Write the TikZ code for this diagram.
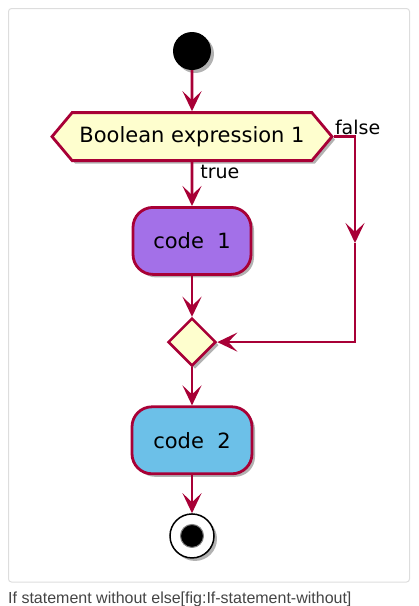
\documentclass[tikz,border=0pt]{standalone}
\usepackage{fontspec}
\usepackage{tikz}
\usetikzlibrary{arrows.meta, positioning, shapes.geometric, shapes.symbols, shadows}
\newfontfamily\umlfont{DejaVu Sans}
\newfontfamily\capfont{Liberation Sans}
\definecolor{umlred}{HTML}{A80036}
\definecolor{umlyellow}{HTML}{FEFECE}
\definecolor{umlpurple}{HTML}{A370E8}
\definecolor{umlblue}{HTML}{6CC0E8}
\definecolor{framegray}{HTML}{DDDDDD}
\definecolor{captext}{HTML}{444444}
\tikzset{
  umlshadow/.style={drop shadow={shadow xshift=3pt, shadow yshift=-3pt,
                    opacity=0.3, fill=black}},
  actbox/.style={draw=umlred, line width=2.8pt, rounded corners=20pt,
                 minimum width=118pt, minimum height=67pt, umlshadow,
                 font=\umlfont\fontsize{21}{25}\selectfont},
  condbox/.style={signal, signal to=west and east, signal pointer angle=100,
                  draw=umlred, fill=umlyellow, line width=2.8pt,
                  minimum width=280pt, minimum height=48pt, inner xsep=2pt,
                  umlshadow, font=\umlfont\fontsize{21}{25}\selectfont},
  mergebox/.style={diamond, draw=umlred, fill=umlyellow, line width=2.6pt,
                   minimum width=48pt, minimum height=48pt, inner sep=0pt,
                   umlshadow},
  flow/.style={-{Stealth[length=20pt, width=19pt, inset=9pt]},
               line width=2.6pt, draw=umlred},
  lbl/.style={font=\umlfont\fontsize{19}{22}\selectfont, inner sep=1pt},
}
\begin{document}
\begin{tikzpicture}[x=1pt, y=1pt, node distance=38pt]
  \useasboundingbox (0,0) rectangle (419,-606);
  \draw[framegray, line width=1pt, rounded corners=3pt]
    (8.5,-8.5) rectangle (409.5,-582);

  \node[circle, fill=black, minimum size=38pt, inner sep=0pt, umlshadow]
    (start) at (192,-51) {};
  \node[condbox, below=41pt of start] (cond) {Boolean expression 1};
  \node[actbox, fill=umlpurple, below=44pt of cond] (code1) {code~~1};
  \node[mergebox, below=41pt of code1] (merge) {};
  \node[actbox, fill=umlblue, minimum width=120pt, below=of merge]
    (code2) {code~~2};
  \node[circle, draw=black, fill=white, line width=1.5pt, minimum size=44pt,
        inner sep=0pt, umlshadow, below=of code2] (stop) {};
  \node[circle, fill=black, draw=gray, line width=1pt, minimum size=23pt,
        inner sep=0pt] (stopdot) at (stop) {};
  \coordinate (fmid) at (355,-243);

  \draw[flow] (start) -- (cond);
  \draw[flow] (cond) -- node[lbl, anchor=north west, pos=0, xshift=6pt,
    yshift=-1pt]{true} (code1);
  \draw[flow] (cond.east) -| (fmid);
  \draw[flow] (fmid) |- (merge.east);
  \node[lbl, anchor=south west, yshift=1pt] (flbl) at (cond.east) {false};
  \draw[flow] (code1) -- (merge);
  \draw[flow] (merge) -- (code2);
  \draw[flow] (code2) -- (stop);

  \node[anchor=west, font=\capfont\fontsize{16}{19}\selectfont,
        text=captext, inner sep=0pt] (caption) at (8,-599)
    {If statement without else[fig:If-statement-without]};
\end{tikzpicture}
\end{document}
